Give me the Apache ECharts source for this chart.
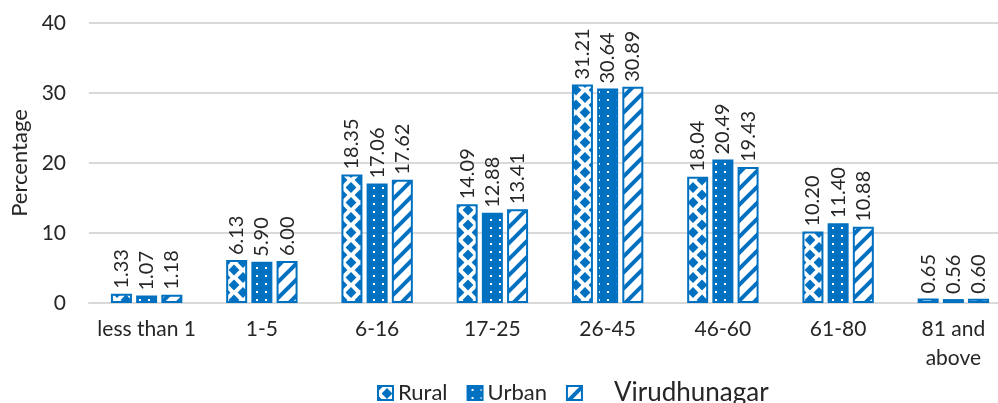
<!DOCTYPE html>
<html>
<head>
<meta charset="utf-8">
<script src="https://cdn.jsdelivr.net/npm/echarts@6/dist/echarts.min.js"></script>
<style>
  html, body { margin: 0; padding: 0; background: #fff; overflow: hidden; }
  #chart { width: 998px; height: 403px; }
</style>
</head>
<body>
<div id="chart"></div>
<script>
// Age-group distribution (%), rural vs urban vs district total
const categories = ['less than 1', '1-5', '6-16', '17-25', '26-45', '46-60', '61-80', '81 and\nabove'];
const rural = [1.33, 6.13, 18.35, 14.09, 31.21, 18.04, 10.20, 0.65];
const urban = [1.07, 5.90, 17.06, 12.88, 30.64, 20.49, 11.40, 0.56];
const district = [1.18, 6.00, 17.62, 13.41, 30.89, 19.43, 10.88, 0.60];
const yTicks = { min: 0, max: 40, interval: 10 };

const BLUE = '#0070C0';
const TEXT = '#262626';
const FONT = 'Lato, "Open Sans", sans-serif';

// Fill patterns drawn on small tiles
function tile(w, h, draw) {
  const c = document.createElement('canvas');
  c.width = w; c.height = h;
  const ctx = c.getContext('2d');
  draw(ctx, w, h);
  return { image: c, repeat: 'repeat' };
}

// white ground with a lattice of blue diamonds
const diamondFill = tile(18, 15, (ctx, w, h) => {
  ctx.fillStyle = '#fff'; ctx.fillRect(0, 0, w, h);
  ctx.fillStyle = BLUE;
  const rx = 5.4, ry = 5.6;
  const centers = [[w / 2, h / 2], [0, 0], [w, 0], [0, h], [w, h]];
  centers.forEach(([cx, cy]) => {
    ctx.beginPath();
    ctx.moveTo(cx, cy - ry);
    ctx.lineTo(cx + rx, cy);
    ctx.lineTo(cx, cy + ry);
    ctx.lineTo(cx - rx, cy);
    ctx.closePath();
    ctx.fill();
  });
});

// solid blue with small white dots
const dotFill = tile(9, 8, (ctx, w, h) => {
  ctx.fillStyle = BLUE; ctx.fillRect(0, 0, w, h);
  ctx.fillStyle = '#fff';
  ctx.fillRect(4, 3, 2, 2);
});

// white ground with blue upward diagonal stripes
const stripeFill = tile(16, 16, (ctx, w, h) => {
  ctx.fillStyle = '#fff'; ctx.fillRect(0, 0, w, h);
  ctx.strokeStyle = BLUE;
  ctx.lineWidth = 4;
  for (let o = -16; o <= 16; o += 16) {
    ctx.beginPath();
    ctx.moveTo(o - 2, h + 2);
    ctx.lineTo(o + w + 2, -2);
    ctx.stroke();
  }
});

const valueLabel = {
  show: true,
  position: 'top',
  rotate: 90,
  align: 'left',
  verticalAlign: 'middle',
  distance: 5,
  fontSize: 20,
  fontFamily: FONT,
  color: TEXT,
  formatter: p => Number(p.value).toFixed(2)
};

function barSeries(name, data, fill) {
  return {
    name: name,
    type: 'bar',
    data: data,
    barWidth: 21,
    barGap: '20%',
    itemStyle: { color: fill, borderColor: BLUE, borderWidth: 2 },
    label: valueLabel,
    emphasis: { disabled: true }
  };
}

const chart = echarts.init(document.getElementById('chart'), null, { renderer: 'canvas' });
chart.setOption({
  backgroundColor: '#fff',
  animation: false,
  textStyle: { fontFamily: FONT },
  // the plot area runs slightly past the right edge of the canvas
  grid: { left: 89, width: 922, top: 23, height: 280, containLabel: false, outerBoundsMode: 'none' },
  legend: {
    left: 377,
    top: 380,
    padding: 0,
    itemWidth: 15,
    itemHeight: 14,
    itemGap: 19,
    icon: 'rect',
    textStyle: {
      fontSize: 22, fontFamily: FONT, color: TEXT, lineHeight: 20,
      rich: { wide: { fontSize: 26, lineHeight: 20, fontFamily: FONT, color: TEXT, padding: [0, 0, 0, 27] } }
    },
    formatter: n => n === 'Virudhunagar' ? '{wide|' + n + '}' : n,
    data: ['Rural', 'Urban', 'Virudhunagar']
  },
  xAxis: {
    type: 'category',
    data: categories,
    axisLine: { lineStyle: { color: '#d9d9d9', width: 2 } },
    axisTick: { show: false },
    axisLabel: { fontSize: 21, fontFamily: FONT, color: TEXT, margin: 12, lineHeight: 29, interval: 0 }
  },
  yAxis: {
    type: 'value',
    min: yTicks.min,
    max: yTicks.max,
    interval: yTicks.interval,
    name: 'Percentage',
    nameLocation: 'middle',
    nameRotate: 90,
    nameGap: 56,
    nameTextStyle: { fontSize: 22, fontFamily: FONT, color: TEXT },
    axisLine: { show: false },
    axisTick: { show: false },
    axisLabel: { fontSize: 21, fontFamily: FONT, color: TEXT, margin: 23 },
    splitLine: { lineStyle: { color: '#d9d9d9', width: 2 } }
  },
  series: [
    barSeries('Rural', rural, diamondFill),
    barSeries('Urban', urban, dotFill),
    barSeries('Virudhunagar', district, stripeFill)
  ]
});
</script>
</body>
</html>
